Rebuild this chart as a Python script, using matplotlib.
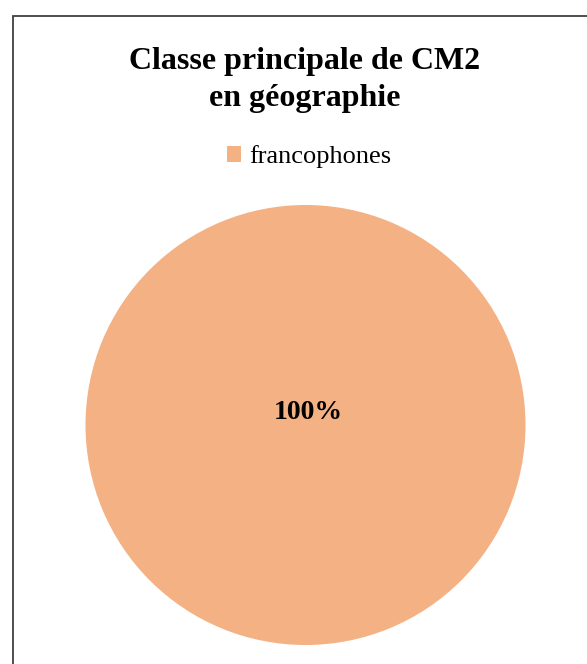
import matplotlib
matplotlib.use('Agg')
import matplotlib.pyplot as plt
from matplotlib.patches import Rectangle

# données
categories = ['francophones']
values = [100]
colors = ['#F4B183']
title = 'Classe principale de CM2\nen géographie'

W, H = 587, 664
fig = plt.figure(figsize=(W / 100, H / 100), dpi=100)
plt.rcParams['font.family'] = ['Liberation Serif', 'DejaVu Serif']

# cadre du graphique (coupé à droite et en bas)
fig.patches.append(Rectangle((13 / W, -0.05), 1.0, (H - 16) / H + 0.05,
                             transform=fig.transFigure, fill=False,
                             edgecolor='#404040', linewidth=1.3))

# camembert : centre (305.5, 425), rayon 220 px
ax = fig.add_axes([85.5 / W, 19 / H, 440 / W, 440 / H])
wedges, texts, autotexts = ax.pie(values, colors=colors, startangle=-90,
                                  autopct='%1.0f%%', pctdistance=0.055,
                                  textprops={'fontsize': 20, 'fontweight': 'bold'})
autotexts[0].set_x(0.015)
ax.set_xlim(-1, 1)
ax.set_ylim(-1, 1)
ax.axis('off')

fig.text(305 / W, 1 - 80 / H, title, ha='center', va='center',
         fontsize=23, fontweight='bold', linespacing=1.33)

fig.legend(wedges, categories, loc='center', bbox_to_anchor=(309 / W, 1 - 157 / H),
           frameon=False, fontsize=19, handlelength=0.55, handleheight=0.55,
           handletextpad=0.3)

fig.savefig('out.png', dpi=100)
